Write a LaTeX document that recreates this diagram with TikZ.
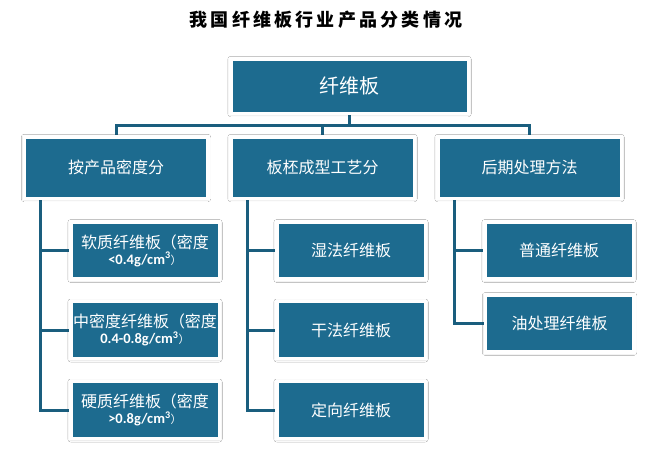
\documentclass[tikz,border=0pt]{standalone}
\usepackage{fontspec}
\setmainfont{Noto Sans CJK SC}
\newfontfamily\latfont{Carlito}
\newfontfamily\titlefont[LetterSpace=18]{Noto Sans CJK SC}
\usetikzlibrary{shadows.blur,backgrounds}
\definecolor{boxteal}{RGB}{29,107,143}
\definecolor{lineteal}{RGB}{26,94,126}
\newcommand{\dens}[1]{{\fontsize{14.5}{16}\selectfont{\latfont\bfseries #1g/cm\textsuperscript{3}}{\fontsize{11}{12}\selectfont ）}}}
\tikzset{
  box/.style={draw=white, line width=3.5pt, fill=boxteal, text=white, align=center, inner sep=0pt,
    blur shadow={shadow xshift=0pt, shadow yshift=-0.5pt, shadow blur radius=3pt, shadow blur steps=6, shadow opacity=30}},
  rootbox/.style={box, minimum width=237.5pt, minimum height=54.5pt, font=\fontsize{20}{23}\selectfont},
  catbox/.style={box, minimum width=183.5pt, minimum height=61.5pt, font=\fontsize{16}{19}\selectfont},
  leafbox/.style={box, minimum width=148.5pt, minimum height=57pt, font=\fontsize{16}{19}\selectfont},
  conn/.style={draw=lineteal, line width=3pt},
}
\begin{document}
\begin{tikzpicture}[x=1pt,y=-1pt]
    \useasboundingbox (0,0) rectangle (651,448);
    \node[font={\titlefont\bfseries\fontsize{18}{20}\selectfont}] (title) at (326,20) {我国纤维板行业产品分类情况};
    \node[rootbox] (root) at (349.5,86) {纤维板};
    % categories
    \node[catbox] (c1) at (116,167.5) {按产品密度分};
    \node[catbox] (c2) at (322.5,167.5) {板柸成型工艺分};
    \node[catbox] (c3) at (529.5,167.5) {后期处理方法};
    % leaves
    \node[leafbox] (s1) at (145,250.5) {软质纤维板（密度\\[-3pt]\dens{<0.4}};
    \node[leafbox] (s2) at (145,330) {中密度纤维板（密度\\[-3pt]\dens{0.4-0.8}};
    \node[leafbox] (s3) at (145,410) {硬质纤维板（密度\\[-3pt]\dens{>0.8}};
    \node[leafbox] (m1) at (351,250.5) {湿法纤维板};
    \node[leafbox] (m2) at (351,330) {干法纤维板};
    \node[leafbox] (m3) at (351,410) {定向纤维板};
    \node[leafbox] (r1) at (559,250.5) {普通纤维板};
    \node[leafbox] (r2) at (559.5,323.5) {油处理纤维板};
    \begin{scope}[on background layer]
        \fill[white] (0,0) rectangle (651,448);
        \coordinate (bus) at (0,125.5);
        \draw[conn] (root.south) -- (root.south |- bus);
        \draw[conn] (c1.north) -- (c1.north |- bus) -- (c3.north |- bus) -- (c3.north);
        \draw[conn] (c2.north |- bus) -- (c2.north);
        \coordinate (t1) at ([xshift=18pt]c1.south west);
        \coordinate (t2) at ([xshift=18pt]c2.south west);
        \coordinate (t3) at ([xshift=18pt]c3.south west);
        \draw[conn] (t1) |- (s3.west);
        \draw[conn] (t1 |- s1.west) -- (s1.west);
        \draw[conn] (t1 |- s2.west) -- (s2.west);
        \draw[conn] (t2) |- (m3.west);
        \draw[conn] (t2 |- m1.west) -- (m1.west);
        \draw[conn] (t2 |- m2.west) -- (m2.west);
        \draw[conn] (t3) |- (r2.west);
        \draw[conn] (t3 |- r1.west) -- (r1.west);
    \end{scope}
\end{tikzpicture}
\end{document}
